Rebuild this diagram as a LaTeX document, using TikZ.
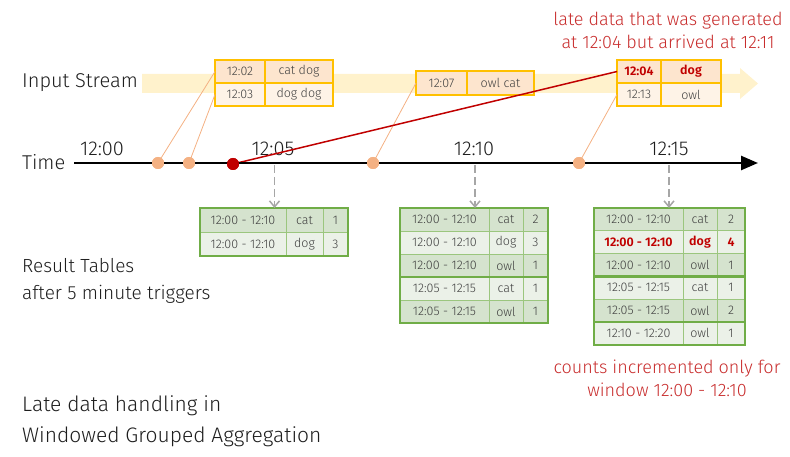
\documentclass[tikz,border=0pt]{standalone}
\usepackage{fontspec}
\setmainfont{Fira Sans Light}[BoldFont={Fira Sans SemiBold}]
\usetikzlibrary{positioning,calc,arrows.meta}

\definecolor{streamfill}{RGB}{255,242,204}
\definecolor{inborder}{RGB}{255,192,0}
\definecolor{inrowA}{RGB}{253,229,206}
\definecolor{inrowB}{RGB}{254,243,231}
\definecolor{dotorange}{RGB}{244,177,131}
\definecolor{latered}{RGB}{192,0,0}
\definecolor{notered}{RGB}{200,45,45}
\definecolor{resborder}{RGB}{112,173,71}
\definecolor{resrowA}{RGB}{213,227,206}
\definecolor{resrowB}{RGB}{235,241,232}
\definecolor{txtdark}{RGB}{30,30,30}
\definecolor{txtgray}{RGB}{64,64,64}

\begin{document}
\begin{tikzpicture}[
            x=1pt, y=-1pt,
            lbl/.style={anchor=west, align=left, inner sep=0, text=txtdark, font=\fontsize{20}{28}\selectfont},
            note/.style={align=center, inner sep=0, text=notered, font=\fontsize{18}{23}\selectfont},
            timelbl/.style={inner sep=0, text=txtdark, font=\fontsize{20}{24}\selectfont},
            incell/.style={draw=inborder, line width=1.2, anchor=north west, outer sep=0, inner sep=0, text=txtgray, font=\fontsize{12.5}{14}\selectfont},
            rescell/.style={draw=resborder!70, line width=0.8, anchor=north west, outer sep=0, inner sep=0, text=txtgray, font=\fontsize{12.5}{14}\selectfont},
            rowA/.style={fill=resrowA},
            rowB/.style={fill=resrowB},
            rowhot/.style={fill=resrowB, text=latered, font=\fontsize{12.5}{14}\selectfont\bfseries},
            resframe/.style={draw=resborder, line width=2.5},
            dot/.style={circle, inner sep=0, minimum size=12, fill=dotorange},
            feed/.style={dotorange, line width=0.8},
            tickarrow/.style={gray!70, line width=1.5, dash pattern=on 8pt off 4pt, -{Straight Barb[length=6,width=10]}},
        ]
            \useasboundingbox (0,0) rectangle (790,457);

            % input stream band
            \fill[streamfill] (142,74) -- (740,74) -- (740,68) -- (758,83.5) -- (740,99) -- (740,93) -- (142,93) -- cycle;
            \node[lbl] (instream) at (22,83) {Input Stream};

            % time axis
            \node[lbl] (time) at (22,162) {Time};
            \coordinate (ax0) at (74,163);
            \coordinate (ax1) at (758,163);
            \node[timelbl] (l00) at (102,149) {12:00};
            \node[timelbl] (l05) at (273,149) {12:05};
            \node[timelbl] (l10) at (474,149) {12:10};
            \node[timelbl] (l15) at (669,149) {12:15};

            % events on the time axis
            \node[dot] (d1) at (158,163) {};
            \node[dot] (d2) at (189,163) {};
            \node[dot, fill=latered] (dlate) at (233,164) {};
            \node[dot] (d3) at (373,163) {};
            \node[dot] (d4) at (579,163) {};

            % input records
            \node[incell, fill=inrowA, minimum width=50, minimum height=23] (in1a) at (215,60) {12:02};
            \node[incell, fill=inrowA, minimum width=68, minimum height=23] (in1aw) at (in1a.north east) {cat dog};
            \node[incell, fill=inrowB, minimum width=50, minimum height=23] (in1b) at (in1a.south west) {12:03};
            \node[incell, fill=inrowB, minimum width=68, minimum height=23] (in1bw) at (in1b.north east) {dog dog};

            \node[incell, fill=inrowA, minimum width=51, minimum height=24] (in2a) at (416,71) {12:07};
            \node[incell, fill=inrowA, minimum width=67, minimum height=24] (in2aw) at (in2a.north east) {owl cat};

            \node[incell, fill=inrowA, minimum width=44, minimum height=23, text=latered, font=\fontsize{12.5}{14}\selectfont\bfseries] (in3a) at (617,60) {12:04};
            \node[incell, fill=inrowA, minimum width=60, minimum height=23, text=latered, font=\fontsize{12.5}{14}\selectfont\bfseries] (in3aw) at (in3a.north east) {dog};
            \node[incell, fill=inrowB, minimum width=44, minimum height=23] (in3b) at (in3a.south west) {12:13};
            \node[incell, fill=inrowB, minimum width=60, minimum height=23] (in3bw) at (in3b.north east) {owl};

            \draw[feed] (d1.center) -- (in1a.west);
            \draw[feed] (d2.center) -- (in1b.west);
            \draw[feed] (d3.center) -- (in2a.west);
            \draw[feed] (d4.center) -- (in3b.west);
            \draw[latered, line width=1.5] (dlate.center) -- (in3a.west);

            \draw[line width=2.5, -{Triangle[length=17,width=14]}] (ax0) -- (ax1);
            \foreach \d in {d1,d2,d3,d4} \node[dot] at (\d) {};
            \node[dot, fill=latered] at (dlate) {};

            \node[note] (latenote) at (668,30) {late data that was generated\\at 12:04 but arrived at 12:11};

            % result tables
            \node[lbl, font=\fontsize{19}{27}\selectfont] (restitle) at (22,281) {Result Tables\\after 5 minute triggers};

            \foreach \w/\k/\n/\f [count=\i] in {12:00 - 12:10/cat/1/rowA, 12:00 - 12:10/dog/3/rowB}{
                \node[rescell, \f, minimum width=86, minimum height=24] (ra\i) at (200,{208+24*(\i-1)}) {\w};
                \node[rescell, \f, minimum width=37, minimum height=24] (rak\i) at (ra\i.north east) {\k};
                \node[rescell, \f, minimum width=25, minimum height=24] (ran\i) at (rak\i.north east) {\n};
            }
            \draw[resframe] (ra1.north west) rectangle (ran2.south east);

            \foreach \w/\k/\n/\f [count=\i] in {12:00 - 12:10/cat/2/rowA, 12:00 - 12:10/dog/3/rowB, 12:00 - 12:10/owl/1/rowA, 12:05 - 12:15/cat/1/rowB, 12:05 - 12:15/owl/1/rowA}{
                \node[rescell, \f, minimum width=89, minimum height=23] (rb\i) at (400,{208+23*(\i-1)}) {\w};
                \node[rescell, \f, minimum width=34, minimum height=23] (rbk\i) at (rb\i.north east) {\k};
                \node[rescell, \f, minimum width=25, minimum height=23] (rbn\i) at (rbk\i.north east) {\n};
            }
            \draw[resframe] (rb1.north west) rectangle (rbn5.south east);
            \draw[resframe] (rb3.south west) -- (rbn3.south east);

            \foreach \w/\k/\n/\f [count=\i] in {12:00 - 12:10/cat/2/rowA, 12:00 - 12:10/dog/4/rowhot, 12:00 - 12:10/owl/1/rowA, 12:05 - 12:15/cat/1/rowB, 12:05 - 12:15/owl/2/rowA, 12:10 - 12:20/owl/1/rowB}{
                \node[rescell, \f, minimum width=89, minimum height=22.8] (rc\i) at (594,{208+22.8*(\i-1)}) {\w};
                \node[rescell, \f, minimum width=34, minimum height=22.8] (rck\i) at (rc\i.north east) {\k};
                \node[rescell, \f, minimum width=28, minimum height=22.8] (rcn\i) at (rck\i.north east) {\n};
            }
            \draw[resframe] (rc1.north west) rectangle (rcn6.south east);
            \draw[resframe] (rc3.south west) -- (rcn3.south east);
            \draw[resframe] (rc5.south west) -- (rcn5.south east);

            % triggers
            \coordinate (k05) at (274.5,165);
            \coordinate (k10) at (475,165);
            \coordinate (k15) at (669,165);
            \draw[tickarrow] (k05) -- (k05 |- ra1.north);
            \draw[tickarrow] (k10) -- (k10 |- rb1.north);
            \draw[tickarrow] (k15) -- (k15 |- rc1.north);

            \node[note] (countnote) at (667,378) {counts incremented only for\\window 12:00 - 12:10};

            \node[lbl, font=\fontsize{21}{31}\selectfont] (caption) at (22,421) {Late data handling in\\Windowed Grouped Aggregation};
        \end{tikzpicture}
\end{document}
